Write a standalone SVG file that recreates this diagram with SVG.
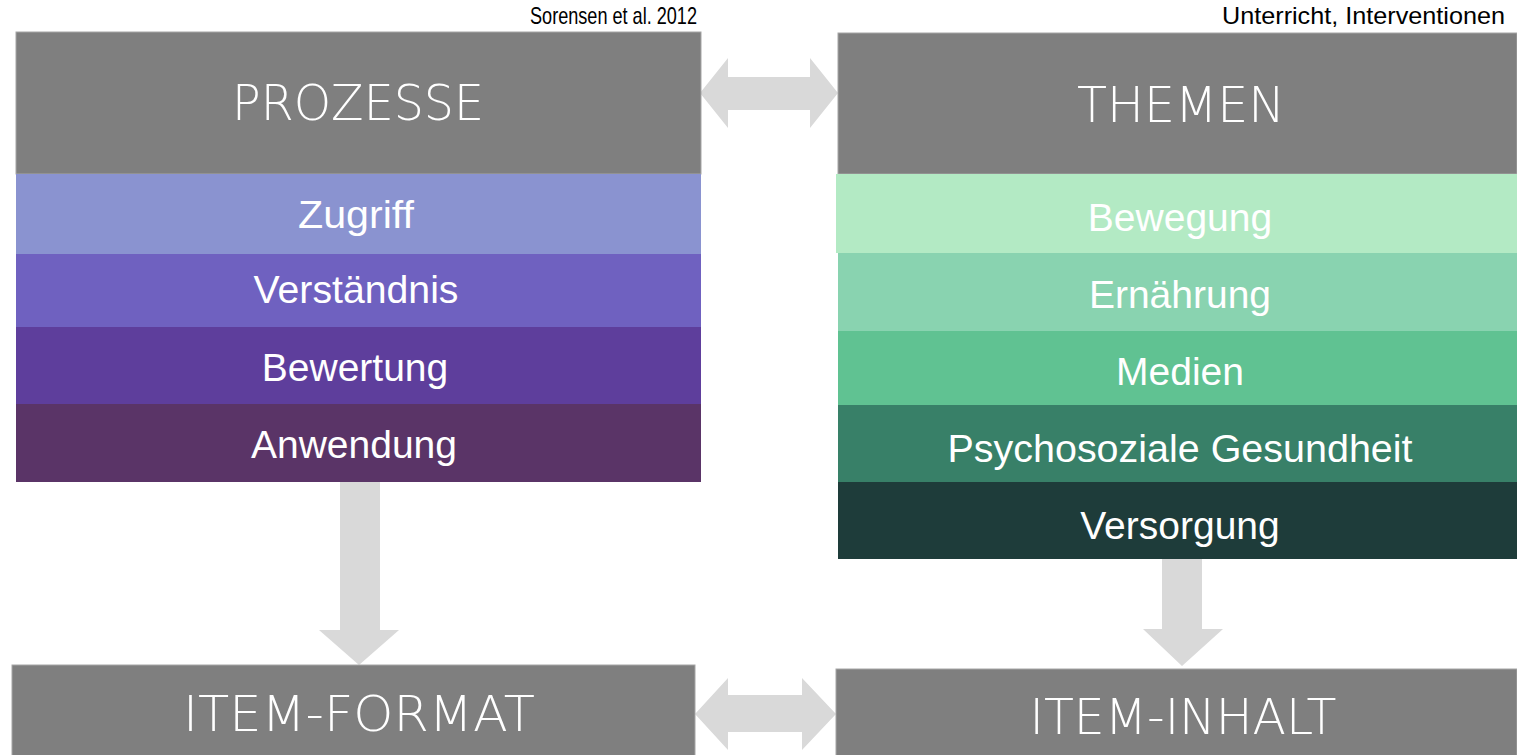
<svg xmlns="http://www.w3.org/2000/svg" width="1517" height="755" viewBox="0 0 1517 755">
<style>
.hdr{fill:#7f7f7f}
.arrow{fill:#d9d9d9}
.title{font-family:"DejaVu Sans","Liberation Sans",sans-serif;font-weight:200;font-size:49px;fill:#ffffff;text-anchor:middle}
.band{font-family:"Liberation Sans",Arial,sans-serif;font-size:39px;fill:#ffffff;text-anchor:middle}
.note{font-family:"Liberation Sans",Arial,sans-serif;font-size:24px;fill:#000000;text-anchor:end}
</style>
<rect width="1517" height="755" fill="#ffffff"/>
<g id="notes">
<text class="note" x="697" y="24" textLength="167" lengthAdjust="spacingAndGlyphs">Sorensen et al. 2012</text>
<text class="note" x="1505" y="24" textLength="283" lengthAdjust="spacingAndGlyphs">Unterricht, Interventionen</text>
</g>
<g id="connectors">
<polygon class="arrow" points="700,93 728,58 728,77 810,77 810,58 838,93 810,128 810,110 728,110 728,128"/>
<polygon class="arrow" points="695,714 728,678 728,695 802,695 802,678 836,714 802,750 802,732 728,732 728,750"/>
<polygon class="arrow" points="340,482 380,482 380,630 399,630 359,665 319,630 340,630"/>
<polygon class="arrow" points="1162,559 1202,559 1202,629 1223,629 1182,666 1143,629 1162,629"/>
</g>
<g id="prozesse">
<rect class="hdr" x="16" y="32" width="685" height="142" stroke="#a6a6a6" stroke-width="1"/>
<text class="title" x="358" y="120" textLength="252" lengthAdjust="spacingAndGlyphs">PROZESSE</text>
<rect x="16" y="174" width="685" height="80" fill="#8a93d0"/>
<text class="band" x="356" y="228" textLength="116" lengthAdjust="spacingAndGlyphs">Zugriff</text>
<rect x="16" y="254" width="685" height="73" fill="#6f61c0"/>
<text class="band" x="356" y="303" textLength="205" lengthAdjust="spacingAndGlyphs">Verständnis</text>
<rect x="16" y="327" width="685" height="77" fill="#5e3e9c"/>
<text class="band" x="355" y="381">Bewertung</text>
<rect x="16" y="404" width="685" height="78" fill="#5a3467"/>
<text class="band" x="354" y="458">Anwendung</text>
</g>
<g id="themen">
<rect class="hdr" x="838" y="33" width="679" height="141" stroke="#a6a6a6" stroke-width="1"/>
<text class="title" x="1181" y="122" textLength="208" lengthAdjust="spacingAndGlyphs">THEMEN</text>
<rect x="836" y="174" width="681" height="79" fill="#b3eac4"/>
<text class="band" x="1180" y="231">Bewegung</text>
<rect x="838" y="253" width="679" height="78" fill="#89d3b0"/>
<text class="band" x="1180" y="308">Ernährung</text>
<rect x="838" y="331" width="679" height="74" fill="#60c292"/>
<text class="band" x="1180" y="385">Medien</text>
<rect x="838" y="405" width="679" height="77" fill="#388068"/>
<text class="band" x="1180" y="462" textLength="465" lengthAdjust="spacingAndGlyphs">Psychosoziale Gesundheit</text>
<rect x="838" y="482" width="679" height="77" fill="#1e3c3a"/>
<text class="band" x="1180" y="539">Versorgung</text>
</g>
<g id="item-format">
<rect class="hdr" x="12" y="665" width="683" height="95" stroke="#a6a6a6" stroke-width="1"/>
<text class="title" x="359" y="731" textLength="352" lengthAdjust="spacingAndGlyphs">ITEM-FORMAT</text>
</g>
<g id="item-inhalt">
<rect class="hdr" x="836" y="669" width="681" height="90" stroke="#a6a6a6" stroke-width="1"/>
<text class="title" x="1183" y="734" textLength="307" lengthAdjust="spacingAndGlyphs">ITEM-INHALT</text>
</g>
</svg>
